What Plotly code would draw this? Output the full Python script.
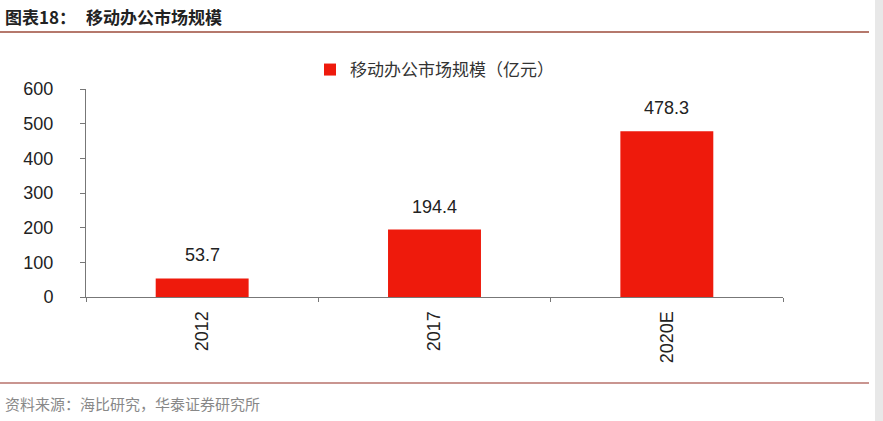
import plotly.graph_objects as go

categories = ["2012", "2017", "2020E"]
values = [53.7, 194.4, 478.3]
series_name = "移动办公市场规模（亿元）"
title_prefix = "图表18："
title_text = "移动办公市场规模"
source_text = "资料来源：海比研究，华泰证券研究所"

W, H = 883, 421
L, R, T, B = 86, 100, 89, 124
pw = W - L - R
ph = H - T - B

def px(x):
    return (x - L) / pw

def py(y):
    return (H - B - y) / ph

fig = go.Figure()
fig.add_trace(go.Bar(
    x=categories, y=values, name=series_name,
    marker=dict(color="#ee1a0c", line=dict(width=0)),
    width=0.4,
))

for i, v in enumerate(values):
    fig.add_annotation(x=i, y=v, xref="x", yref="y", text=f"{v:.1f}", showarrow=False,
                       yanchor="bottom", yshift=11,
                       font=dict(family="Liberation Sans, Arial", size=18, color="#222"))

fig.update_layout(
    width=W, height=H,
    margin=dict(l=L, r=R, t=T, b=B),
    paper_bgcolor="white", plot_bgcolor="white",
    showlegend=True,
    legend=dict(x=0.5, xanchor="center", y=py(70), yanchor="middle",
                orientation="h",
                font=dict(family="Noto Sans CJK SC", size=17, color="#333"),
                itemwidth=30),
    yaxis=dict(range=[0, 600], dtick=100, showgrid=False, zeroline=False,
               showline=True, linecolor="#777", linewidth=1,
               ticks="outside", ticklen=5, tickcolor="#777",
               ticklabelstandoff=23,
               tickfont=dict(family="Liberation Sans, Arial", size=18, color="#222")),
    xaxis=dict(type="category", range=[-0.5, len(categories) - 0.5],
               showgrid=False, showline=True, linecolor="#777", linewidth=1,
               ticks="outside", ticklen=4, tickcolor="#777", tickson="boundaries",
               tickangle=-90, ticklabelstandoff=6,
               tickfont=dict(family="Liberation Sans, Arial", size=18, color="#222")),
    bargap=0.6,
)

fig.add_annotation(xref="paper", yref="paper", x=px(3), y=py(17), xanchor="left", yanchor="middle",
                   text=f"<b>{title_prefix}</b>", showarrow=False,
                   font=dict(family="Noto Sans CJK SC", size=17, color="#222"))
fig.add_annotation(xref="paper", yref="paper", x=px(84), y=py(17), xanchor="left", yanchor="middle",
                   text=f"<b>{title_text}</b>", showarrow=False,
                   font=dict(family="Noto Sans CJK SC", size=17, color="#222"))
fig.add_annotation(xref="paper", yref="paper", x=px(3), y=py(403), xanchor="left", yanchor="middle",
                   text=source_text, showarrow=False,
                   font=dict(family="Noto Sans CJK SC", size=15, color="#888"))

fig.add_shape(type="line", xref="paper", yref="paper", x0=px(0), x1=px(869), y0=py(32), y1=py(32),
              line=dict(color="#b5786c", width=2))
fig.add_shape(type="line", xref="paper", yref="paper", x0=px(0), x1=px(869), y0=py(383), y1=py(383),
              line=dict(color="#c99590", width=2))
fig.add_shape(type="rect", xref="paper", yref="paper", x0=px(875), x1=px(883), y0=py(0), y1=py(421),
              fillcolor="#e8e8e8", line=dict(width=0), layer="below")

fig.write_html("out.html", config={"displayModeBar": False},
               post_script="document.body.style.margin='0';")
